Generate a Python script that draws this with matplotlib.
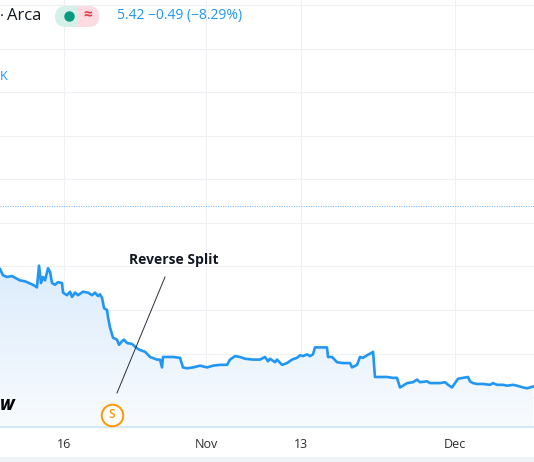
import numpy as np
import matplotlib
matplotlib.use('Agg')
import matplotlib.pyplot as plt
from matplotlib.transforms import Affine2D, blended_transform_factory
from matplotlib.patches import FancyBboxPatch, Rectangle
from matplotlib.lines import Line2D
from matplotlib.colors import LinearSegmentedColormap

# ---- data (trading-day index from Oct 16, price) ----
days = [-5.40, -5.15, -4.81, -4.39, -3.71, -3.29, -2.62, -2.28, -2.11, -1.94,
        -1.77, -1.60, -1.35, -1.18, -1.01, -0.76, -0.51, -0.17, -0.08, 0.25,
        0.51, 0.68, 0.93, 1.18, 1.60, 2.03, 2.36, 2.62, 2.87, 3.04,
        3.21, 3.38, 3.63, 3.71, 3.88, 4.14, 4.47, 4.64, 4.89, 5.06,
        5.32, 5.74, 6.16, 6.41, 6.84, 7.26, 7.85, 8.10, 8.27, 8.35,
        8.78, 9.20, 9.79, 10.04, 10.38, 10.89, 11.48, 12.07, 12.57, 13.16,
        13.76, 14.01, 14.43, 14.85, 15.27, 15.95, 16.54, 16.96, 17.22, 17.38,
        17.81, 17.97, 18.40, 18.82, 19.24, 19.66, 19.92, 20.17, 20.51, 20.76,
        21.01, 21.18, 21.43, 22.19, 22.28, 22.62, 23.04, 23.54, 24.14, 24.30,
        24.73, 24.98, 25.23, 25.57, 25.99, 26.08, 26.24, 26.67, 27.26, 27.76,
        28.10, 28.35, 28.61, 28.95, 29.45, 29.79, 30.04, 30.63, 30.89, 31.73,
        32.15, 32.41, 32.74, 33.00, 33.25, 33.67, 34.09, 34.26, 34.51, 34.85,
        35.36, 35.95, 36.20, 36.54, 37.05, 37.38, 37.89, 38.23, 38.73, 39.07,
        39.58]
prices = [6.77, 6.70, 6.68, 6.69, 6.64, 6.63, 6.59, 6.56, 6.81, 6.61,
          6.68, 6.64, 6.78, 6.74, 6.61, 6.59, 6.62, 6.61, 6.50, 6.47,
          6.51, 6.45, 6.50, 6.47, 6.51, 6.50, 6.47, 6.50, 6.46, 6.48,
          6.44, 6.32, 6.30, 6.22, 6.10, 5.98, 5.96, 5.90, 5.94, 5.96,
          5.92, 5.91, 5.86, 5.84, 5.82, 5.76, 5.73, 5.73, 5.64, 5.76,
          5.76, 5.76, 5.75, 5.64, 5.63, 5.64, 5.66, 5.64, 5.66, 5.67,
          5.67, 5.73, 5.77, 5.76, 5.74, 5.73, 5.73, 5.76, 5.71, 5.74,
          5.70, 5.73, 5.67, 5.69, 5.73, 5.75, 5.78, 5.77, 5.79, 5.77,
          5.79, 5.87, 5.87, 5.87, 5.76, 5.76, 5.70, 5.69, 5.69, 5.64,
          5.67, 5.76, 5.75, 5.78, 5.81, 5.82, 5.53, 5.53, 5.53, 5.52,
          5.52, 5.41, 5.43, 5.46, 5.47, 5.50, 5.47, 5.48, 5.46, 5.46,
          5.47, 5.44, 5.41, 5.46, 5.51, 5.52, 5.53, 5.48, 5.46, 5.45,
          5.45, 5.44, 5.46, 5.44, 5.44, 5.43, 5.44, 5.43, 5.41, 5.40,
          5.42]
tick_days = [0, 12, 20, 33]
tick_labels = ['16', 'Nov', '13', 'Dec']
grid_prices = [5.3, 5.8, 6.3, 6.8, 7.3, 7.8, 8.3, 8.8, 9.3, 9.8]
ref_price = 7.5
split_day = 4.05
last_price = 5.42
change = -0.49
change_pct = -8.29

W, H = 534, 462
BLUE = '#2196f3'
DARK = '#131722'
FONT = ['Open Sans', 'DejaVu Sans']

fig = plt.figure(figsize=(W / 100, H / 100), dpi=100)
fig.patch.set_facecolor('white')
T = Affine2D().scale(1 / W, -1 / H).translate(0, 1) + fig.transFigure

ax_bottom_px = 426.5
ax = fig.add_axes([0, (H - ax_bottom_px) / H, 1, ax_bottom_px / H])
ymin, ymax = 4.961, 9.863

for gp in grid_prices:
    ax.axhline(gp, color='#eef0f4', lw=0.75, zorder=0)
for td in tick_days:
    ax.axvline(td, color='#eef0f4', lw=0.75, zorder=0)

# gradient fill under line
fill = ax.fill_between(days, prices, ymin, color='none', lw=0)
grad = np.linspace(0, 1, 256).reshape(-1, 1)
cmap = LinearSegmentedColormap.from_list('g', ['#f8fbfe', '#dcecfc'])
im = ax.imshow(grad, cmap=cmap, origin='lower', aspect='auto',
               extent=[min(days), max(days), ymin, max(prices)], zorder=1)
im.set_clip_path(fill.get_paths()[0], transform=ax.transData)
ax.set_xlim(-5.40, 39.66)
ax.set_ylim(ymin, ymax)

ax.plot(days, prices, color=BLUE, lw=1.9, solid_joinstyle='round', zorder=3)
ax.axhline(ref_price, color='#7fbdf5', lw=0.8, ls=(0, (1, 1.2)), zorder=2)

for s in ['top', 'left', 'right']:
    ax.spines[s].set_visible(False)
ax.spines['bottom'].set_color('#cbe5fb')
ax.spines['bottom'].set_linewidth(1.2)
ax.set_yticks([])
ax.set_xticks(tick_days)
ax.set_xticklabels(tick_labels, fontsize=9, color='#2e2e2e', family=FONT)
ax.tick_params(axis='x', length=0, pad=8)

# bottom gray strip
fig.add_artist(Rectangle((0, 457), W, 5, transform=T, color='#f0f3fa', lw=0))

# split marker
bt = blended_transform_factory(ax.transData, ax.transAxes)
sy = (ax_bottom_px - 414.5) / ax_bottom_px
ax.plot([split_day], [sy], marker='o', ms=15.5, mfc='white', mec='#ff9800',
        mew=1.4, transform=bt, clip_on=False, zorder=5)
ax.text(split_day, sy, 'S', transform=bt, ha='center', va='center',
        fontsize=8.5, fontweight='semibold', color='#ff9800', family=FONT, zorder=6)
fig.add_artist(Line2D([165, 117], [277, 393], transform=T, color='#2a2e39', lw=0.7))
fig.text(174, 260, 'Reverse Split', transform=T, ha='center', va='center',
         fontsize=10, fontweight='bold', color=DARK, family=FONT)

# header
fig.text(0, 16, '·', transform=T, ha='left', va='center', fontsize=11, color=DARK, family=FONT)
fig.text(7, 16, 'Arca', transform=T, ha='left', va='center', fontsize=12, color=DARK, family=FONT)
pill = FancyBboxPatch((55, 6), 44, 21, boxstyle='round,pad=0,rounding_size=10.5',
                      transform=T, fc='#d5f0e9', ec='none')
fig.add_artist(pill)
pink = Rectangle((77.5, 0), 30, 40, transform=T, fc='#fcdbe3', ec='none')
fig.add_artist(pink)
pink.set_clip_path(pill)
fig.add_artist(Line2D([68.5], [15.5], transform=T, marker='o', ms=6.5, color='#089981', lw=0))
fig.text(88, 15.5, '≈', transform=T, ha='center', va='center', fontsize=11,
         fontweight='bold', color='#f23645', family=FONT)
fig.text(117, 16, f'{last_price:.2f} \u2212{abs(change):.2f} (\u2212{abs(change_pct):.2f}%)',
         transform=T, ha='left', va='center', fontsize=10, color=BLUE, family=FONT)
fig.text(0, 76, 'K', transform=T, ha='left', va='center', fontsize=9, color=BLUE, family=FONT)
fig.text(0, 406, 'W', transform=T, ha='left', va='center', fontsize=11,
         fontweight='heavy', style='italic', color='#000000', family=FONT)

fig.savefig('out.png', dpi=100)
